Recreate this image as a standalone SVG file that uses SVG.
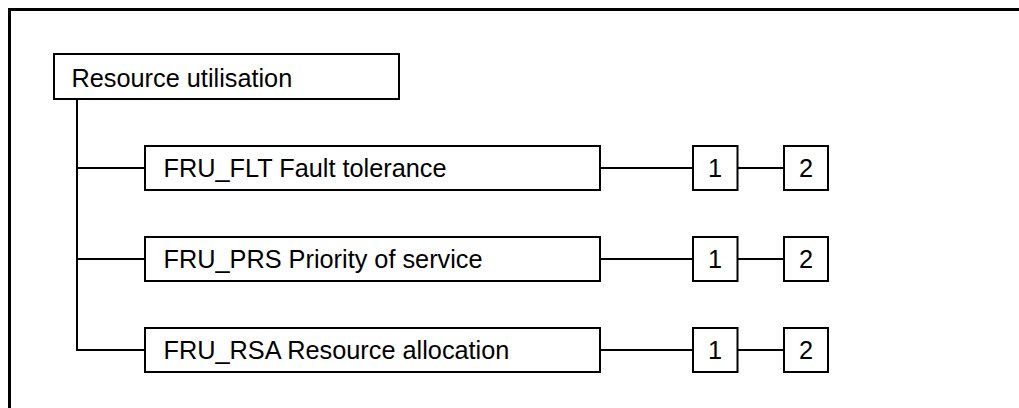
<svg xmlns="http://www.w3.org/2000/svg" width="1019" height="408" viewBox="0 0 1019 408">
<style>
.box{fill:#fff;stroke:#000;stroke-width:2}
.t{font-family:"Liberation Sans",Arial,sans-serif;font-size:25.3px;fill:#000}
.n{font-family:"Liberation Sans",Arial,sans-serif;font-size:25.3px;fill:#000;text-anchor:middle}
.c{stroke:#000;stroke-width:2;fill:none}
</style>
<rect width="1019" height="408" fill="#fff"/>
<path d="M9.5 408 V9.5 H1019" fill="none" stroke="#000" stroke-width="3"/>
<g id="connectors">
<path class="c" d="M77 100 V351"/>
<path class="c" d="M76 168 H145 M76 259 H145 M76 350 H145"/>
<path class="c" d="M601 168 H692 M738 168 H784"/>
<path class="c" d="M601 259 H692 M738 259 H784"/>
<path class="c" d="M601 350 H692 M738 350 H784"/>
</g>
<g id="root"><rect class="box" x="54" y="54" width="345" height="45"/><text class="t" x="71.5" y="86.5">Resource utilisation</text></g>
<g id="flt"><rect class="box" x="145" y="146" width="455" height="44"/><text class="t" x="163.5" y="177">FRU_FLT Fault tolerance</text></g>
<g id="flt1"><rect class="box" x="693" y="146" width="44.5" height="44"/><text class="n" x="715" y="177">1</text></g>
<g id="flt2"><rect class="box" x="784" y="146" width="44" height="44"/><text class="n" x="806" y="177">2</text></g>
<g id="prs"><rect class="box" x="145" y="237" width="455" height="44"/><text class="t" x="163.5" y="268">FRU_PRS Priority of service</text></g>
<g id="prs1"><rect class="box" x="693" y="237" width="44.5" height="44"/><text class="n" x="715" y="268">1</text></g>
<g id="prs2"><rect class="box" x="784" y="237" width="44" height="44"/><text class="n" x="806" y="268">2</text></g>
<g id="rsa"><rect class="box" x="145" y="328" width="455" height="44"/><text class="t" x="163.5" y="359">FRU_RSA Resource allocation</text></g>
<g id="rsa1"><rect class="box" x="693" y="328" width="44.5" height="44"/><text class="n" x="715" y="359">1</text></g>
<g id="rsa2"><rect class="box" x="784" y="328" width="44" height="44"/><text class="n" x="806" y="359">2</text></g>
</svg>
